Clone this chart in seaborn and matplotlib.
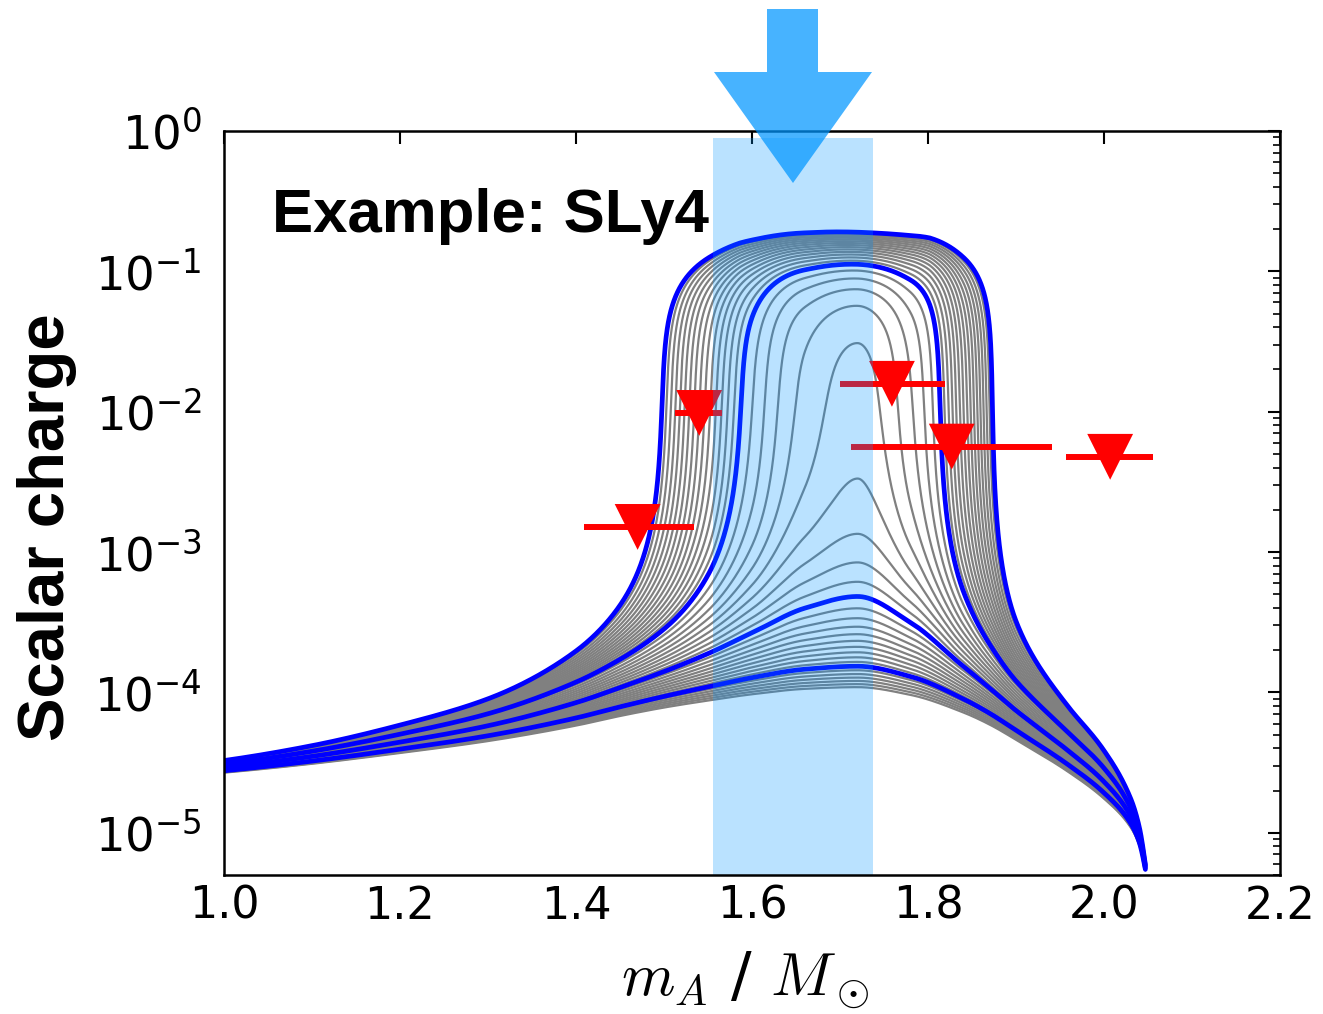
import numpy as np
import pandas as pd
import matplotlib
matplotlib.use("Agg")
import matplotlib.pyplot as plt
from matplotlib.patches import Polygon
from matplotlib.ticker import LogLocator, NullLocator, FixedLocator, FixedFormatter
import seaborn as sns

# ---------------------------------------------------------------- data
# Lowest curve and third highlighted curve, sampled along the mass axis
mass_nodes = [1.00, 1.10, 1.20, 1.30, 1.40, 1.45, 1.50, 1.55, 1.60, 1.66,
              1.72, 1.78, 1.84, 1.87, 1.90, 1.96, 2.00, 2.03, 2.04, 2.047]
charge_lowest = [2.68e-5, 3.1e-5, 3.7e-5, 4.5e-5, 5.8e-5, 6.79e-5, 7.8e-5,
                 8.75e-5, 9.7e-5, 1.06e-4, 1.09e-4, 9.6e-5, 7.2e-5, 5.9e-5,
                 4.6e-5, 2.7e-5, 1.75e-5, 1.1e-5, 8.2e-6, 5.4e-6]
charge_blue3 = [2.913e-5, 3.500e-5, 4.422e-5, 5.786e-5, 8.452e-5, 1.0814e-4,
                1.4071e-4, 1.8895e-4, 2.6570e-4, 3.9841e-4, 4.8245e-4,
                3.1543e-4, 1.5370e-4, 1.0741e-4, 7.431e-5, 3.808e-5,
                2.310e-5, 1.3228e-5, 9.258e-6, 5.625e-6]

# Plateau of the outermost (strongest coupling) curve
plateau_mass = [1.586, 1.677, 1.7375, 1.802]
plateau_charge = [0.159, 0.19, 0.188, 0.173]

# Coupling steps of the curve family (finer spacing in the strongly
# scalarized range); highlighted members are drawn in blue
coupling_step = ([float(k) for k in range(27)]
                 + [26 + 10 * i / 15 for i in range(1, 16)])
blue_steps = [6, 16, 26, 36]
blue3_step = 16
outer_step = 36

# Upper limits: mass, charge and mass range
limit_mass = [1.470, 1.540, 1.759, 1.827, 2.007]
limit_charge = [1.51e-3, 9.8e-3, 1.58e-2, 5.64e-3, 4.77e-3]
limit_lo = [1.409, 1.5125, 1.700, 1.713, 1.957]
limit_hi = [1.534, 1.566, 1.819, 1.941, 2.056]

# Highlighted mass window
window = (1.556, 1.7375)

x_ticks = [1.0, 1.2, 1.4, 1.6, 1.8, 2.0, 2.2]
x_tick_labels = ["1.0", "1.2", "1.4", "1.6", "1.8", "2.0", "2.2"]


# ---------------------------------------------------------------- helpers
def pchip(xk, yk, x):
    """Monotone piecewise cubic Hermite interpolation."""
    xk = np.asarray(xk, float)
    yk = np.asarray(yk, float)
    h = np.diff(xk)
    d = np.diff(yk) / h
    n = len(xk)
    s = np.zeros(n)
    for i in range(1, n - 1):
        if d[i - 1] * d[i] > 0:
            w1 = 2 * h[i] + h[i - 1]
            w2 = h[i] + 2 * h[i - 1]
            s[i] = (w1 + w2) / (w1 / d[i - 1] + w2 / d[i])

    def end(h0, h1, d0, d1):
        v = ((2 * h0 + h1) * d0 - h0 * d1) / (h0 + h1)
        if np.sign(v) != np.sign(d0):
            v = 0.0
        elif np.sign(d0) != np.sign(d1) and abs(v) > abs(3 * d0):
            v = 3 * d0
        return v

    if n > 2:
        s[0] = end(h[0], h[1], d[0], d[1])
        s[-1] = end(h[-1], h[-2], d[-1], d[-2])
    else:
        s[:] = d[0]
    x = np.asarray(x, float)
    idx = np.clip(np.searchsorted(xk, x) - 1, 0, n - 2)
    t = (x - xk[idx]) / h[idx]
    h00 = 2 * t**3 - 3 * t**2 + 1
    h10 = t**3 - 2 * t**2 + t
    h01 = -2 * t**3 + 3 * t**2
    h11 = t**3 - t**2
    return (h00 * yk[idx] + h10 * h[idx] * s[idx]
            + h01 * yk[idx + 1] + h11 * h[idx] * s[idx + 1])


mass = np.linspace(mass_nodes[0], mass_nodes[-1], 6000)
log_low = np.log(charge_lowest)
log_gain = np.log(np.array(charge_blue3) / np.array(charge_lowest))


def response(m):
    """Linear response coefficients: 1/charge = a - k*b for unscalarized curves."""
    a = np.exp(-pchip(mass_nodes, log_low, m))
    b = a * (1 - np.exp(-pchip(mass_nodes, log_gain, m))) / blue3_step
    return a, b


A, S = response(mass)
Ap, Sp = response(np.array(plateau_mass))
pc = np.array(plateau_charge)
sat_nodes = (1 - pc * (Ap - outer_step * Sp)) / pc**3
C = np.exp(pchip(plateau_mass, np.log(sat_nodes),
                 np.clip(mass, plateau_mass[0], plateau_mass[-1])))


def solve_charge(k):
    """Positive root of C q^3 + (A - k S) q - 1 = 0 by bisection in log q."""
    lin = A - k * S
    lo = np.full_like(mass, np.log(1e-9))
    hi = np.full_like(mass, np.log(2.0))
    for _ in range(80):
        mid = 0.5 * (lo + hi)
        q = np.exp(mid)
        f = C * q**3 + lin * q - 1
        pos = f > 0
        hi = np.where(pos, mid, hi)
        lo = np.where(pos, lo, mid)
    return np.exp(0.5 * (lo + hi))


frames = []
for i, k in enumerate(coupling_step):
    is_blue = any(abs(k - b) < 1e-9 for b in blue_steps)
    frames.append(pd.DataFrame({"mass": mass, "charge": solve_charge(k),
                                "curve": i, "blue": is_blue}))
curves = pd.concat(frames, ignore_index=True)

# ---------------------------------------------------------------- figure
sns.set_theme(style="white")
plt.rcParams["font.family"] = ["DejaVu Sans"]
plt.rcParams["mathtext.fontset"] = "cm"
plt.rcParams["axes.unicode_minus"] = False

W, H = 1323, 1014
fig = plt.figure(figsize=(W / 100, H / 100), dpi=100)
ax = fig.add_axes([224 / W, 1 - 875 / H, 1056 / W, 744 / H])
ax.set_yscale("log")

sns.lineplot(data=curves[~curves["blue"]], x="mass", y="charge", units="curve",
             estimator=None, sort=False, color="#808080", lw=1.6,
             legend=False, ax=ax, zorder=2)
sns.lineplot(data=curves[curves["blue"]], x="mass", y="charge", units="curve",
             estimator=None, sort=False, color="#0000ff", lw=3.4,
             legend=False, ax=ax, zorder=3)

ax.hlines(limit_charge, limit_lo, limit_hi, color="#ff0000", lw=4.3, zorder=4)
sns.scatterplot(x=limit_mass, y=limit_charge, marker="v", s=33**2,
                color="#ff0000", edgecolor="none", linewidth=0,
                legend=False, ax=ax, zorder=5)

ax.axvspan(window[0], window[1], ymin=0, ymax=0.9906, color="#0096ff",
           alpha=0.27, lw=0, zorder=10)

ax.set_xlim(1.0, 2.2)
ax.set_ylim(5e-6, 1.0)
ax.set_xlabel("")
ax.set_ylabel("")

ax.xaxis.set_major_locator(FixedLocator(x_ticks))
ax.xaxis.set_major_formatter(FixedFormatter(x_tick_labels))
ax.xaxis.set_minor_locator(NullLocator())
ax.yaxis.set_major_locator(LogLocator(base=10, numticks=20))
ax.yaxis.set_minor_locator(LogLocator(base=10, subs=np.arange(2, 10), numticks=20))

ax.tick_params(which="both", direction="in", top=True, right=True,
               colors="black")
ax.tick_params(which="major", length=9, width=1.5)
ax.tick_params(which="minor", length=5, width=1.2)
ax.tick_params(axis="x", pad=7, labelsize=32)
ax.tick_params(axis="y", pad=16, labelsize=33.5)
for sp in ax.spines.values():
    sp.set_linewidth(1.8)
    sp.set_color("black")
    sp.set_zorder(12)

fig.text(272 / W, 1 - 232 / H, "Example: SLy4", fontsize=44.5, fontweight="bold",
         family=["Liberation Sans", "DejaVu Sans"], ha="left", va="baseline",
         color="black")
fig.text(47 / W, 1 - 527 / H, "Scalar charge", fontsize=47, fontweight="bold",
         family=["Liberation Sans", "DejaVu Sans"], rotation=90,
         ha="center", va="center", color="black")
fig.text(745 / W, 1 - 980 / H, r"$m_A$ / $M_\odot$", fontsize=44,
         ha="center", va="center", color="black")

# Pointer arrow above the highlighted window
arrow_px = [(767, 9), (818, 9), (818, 72), (872, 72), (793, 183),
            (714, 72), (767, 72)]
arrow = Polygon([(x / W, 1 - y / H) for x, y in arrow_px], closed=True,
                transform=fig.transFigure, facecolor="#0096ff", alpha=0.72,
                edgecolor="none", zorder=30)
fig.add_artist(arrow)

fig.savefig("out.png", dpi=100, facecolor="white")
